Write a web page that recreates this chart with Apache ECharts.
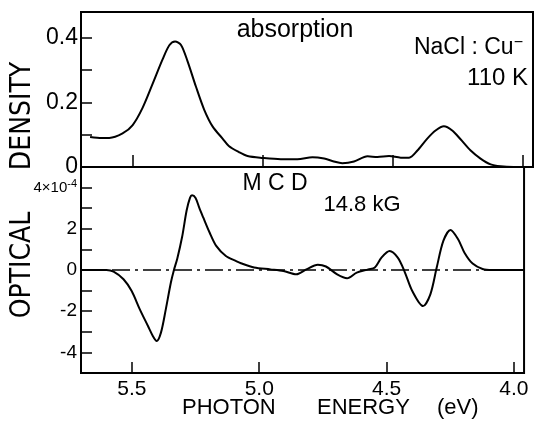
<!DOCTYPE html>
<html>
<head>
<meta charset="utf-8">
<script src="https://cdn.jsdelivr.net/npm/echarts@6/dist/echarts.min.js"></script>
<style>
  html, body { margin: 0; padding: 0; background: #fff; }
  #chart { width: 540px; height: 421px; }
</style>
</head>
<body>
<div id="chart"></div>
<script>
// absorption (optical density) vs photon energy
var absEnergy = [5.665, 5.620, 5.591, 5.540, 5.501, 5.463, 5.424, 5.386, 5.360, 5.338, 5.315, 5.290, 5.258, 5.226, 5.193, 5.155, 5.131, 5.092, 5.059, 5.001, 4.931, 4.867, 4.809, 4.764, 4.730, 4.694, 4.649, 4.597, 4.559, 4.514, 4.469, 4.437, 4.405, 4.367, 4.335, 4.303, 4.271, 4.238, 4.200, 4.162, 4.123, 4.085, 4.035, 3.960];
var absDensity = [0.093, 0.090, 0.090, 0.104, 0.130, 0.183, 0.258, 0.333, 0.377, 0.389, 0.378, 0.328, 0.250, 0.178, 0.125, 0.088, 0.065, 0.046, 0.034, 0.028, 0.024, 0.024, 0.030, 0.026, 0.018, 0.012, 0.017, 0.033, 0.031, 0.034, 0.029, 0.029, 0.051, 0.088, 0.113, 0.126, 0.113, 0.085, 0.051, 0.026, 0.008, 0.002, 0, 0];

// MCD, units of 1e-4
var mcdEnergy = [5.696, 5.600, 5.572, 5.533, 5.501, 5.469, 5.437, 5.418, 5.403, 5.386, 5.367, 5.347, 5.335, 5.322, 5.303, 5.285, 5.272, 5.264, 5.250, 5.235, 5.220, 5.195, 5.169, 5.131, 5.092, 5.072, 5.020, 4.956, 4.905, 4.854, 4.815, 4.770, 4.738, 4.694, 4.655, 4.617, 4.572, 4.546, 4.520, 4.488, 4.456, 4.430, 4.399, 4.357, 4.328, 4.303, 4.277, 4.249, 4.219, 4.194, 4.162, 4.123, 4.085, 3.960];
var mcdValue = [0, 0, -0.08, -0.45, -1.02, -1.91, -2.72, -3.2, -3.45, -3.04, -1.91, -0.61, 0, 0.55, 1.6, 2.9, 3.5, 3.63, 3.5, 3.0, 2.55, 1.82, 1.17, 0.68, 0.44, 0.33, 0.12, 0.03, -0.05, -0.21, 0.03, 0.26, 0.17, -0.21, -0.40, -0.13, 0.03, 0.12, 0.60, 0.92, 0.60, -0.05, -1.02, -1.75, -1.18, 0.12, 1.41, 1.94, 1.49, 0.84, 0.31, 0.05, 0, 0];

var energyTicks = [4.0, 4.5, 5.0, 5.5];
var densityTicks = [0.1, 0.2, 0.3, 0.4];
var densityLabels = [0, 0.2, 0.4];
var mcdTicks = [-4, -3, -2, -1, 0, 1, 2, 3, 4];
var mcdLabels = [-4, -2, 0, 2, 4];

var FONT = "'Liberation Sans', Arial, sans-serif";
var NARROW = "'Liberation Sans Narrow', 'DejaVu Sans Condensed', 'Liberation Sans', sans-serif";

var myChart = echarts.init(document.getElementById('chart'), null, { renderer: 'canvas' });

function pairs(xs, ys) {
    return xs.map(function (x, i) { return [x, ys[i]]; });
}

var xBase = {
    type: 'value',
    min: 3.96,
    max: 5.70,
    inverse: true,
    splitLine: { show: false },
    axisLine: { show: true, onZero: false, lineStyle: { color: '#000', width: 2 } }
};

var option = {
    animation: false,
    backgroundColor: '#fff',
    grid: [
        { left: 81, right: 7, top: 12, height: 155, show: true, borderColor: '#000', borderWidth: 2, backgroundColor: 'transparent' },
        { left: 81, right: 7, top: 167, height: 206, show: true, borderColor: '#000', borderWidth: 2, backgroundColor: 'transparent' }
    ],
    xAxis: [
        Object.assign({}, xBase, {
            gridIndex: 0,
            axisTick: { inside: true, length: 12, customValues: energyTicks, lineStyle: { color: '#000', width: 1.5 } },
            axisLabel: { show: false }
        }),
        Object.assign({}, xBase, {
            gridIndex: 1,
            axisTick: { inside: true, length: 11, customValues: energyTicks, lineStyle: { color: '#000', width: 1.5 } },
            axisLabel: {
                customValues: energyTicks,
                formatter: function (v) { return v.toFixed(1); },
                color: '#000', fontSize: 21, fontFamily: FONT, margin: 6
            }
        })
    ],
    yAxis: [
        {
            type: 'value', gridIndex: 0, min: 0, max: 0.48,
            splitLine: { show: false },
            axisLine: { show: true, lineStyle: { color: '#000', width: 2 } },
            axisTick: { inside: true, length: 11, customValues: densityTicks, lineStyle: { color: '#000', width: 1.5 } },
            axisLabel: {
                customValues: densityLabels,
                formatter: function (v) { return v === 0 ? '0' : String(v); },
                color: '#000', fontSize: 23, fontFamily: FONT, margin: 3
            }
        },
        {
            type: 'value', gridIndex: 1, min: -5, max: 5,
            splitLine: { show: false },
            axisLine: { show: true, lineStyle: { color: '#000', width: 2 } },
            axisTick: { inside: true, length: 11, customValues: mcdTicks, lineStyle: { color: '#000', width: 1.5 } },
            axisLabel: {
                customValues: mcdLabels,
                formatter: function (v) { return v === 4 ? '{s|4×10}{sup|-4}' : '{n|' + v + '}'; },
                color: '#000', fontFamily: FONT, margin: 4,
                rich: {
                    n: { fontSize: 19, fontFamily: FONT, color: '#000' },
                    s: { fontSize: 15, fontFamily: FONT, color: '#000' },
                    sup: { fontSize: 11, fontFamily: FONT, color: '#000', verticalAlign: 'top', padding: [0, 0, 8, 0] }
                }
            }
        },
        {
            // zero reference line (dash-dot) for the MCD panel
            type: 'value', gridIndex: 1, min: -5, max: 5, interval: 5,
            axisLine: { show: false }, axisTick: { show: false }, axisLabel: { show: false },
            splitLine: { show: true, lineStyle: { color: '#000', width: 1.5, type: [18, 5, 3, 5] } }
        }
    ],
    series: [
        {
            name: 'absorption', type: 'line', xAxisIndex: 0, yAxisIndex: 0,
            data: pairs(absEnergy, absDensity),
            smooth: 0.3, showSymbol: false,
            lineStyle: { color: '#000', width: 2 }
        },
        {
            name: 'MCD', type: 'line', xAxisIndex: 1, yAxisIndex: 1,
            data: pairs(mcdEnergy, mcdValue),
            smooth: 0.3, showSymbol: false,
            lineStyle: { color: '#000', width: 2 }
        }
    ],
    graphic: [
        { type: 'text', x: 23, y: 116, rotation: Math.PI / 2, style: { text: 'DENSITY', font: '28px ' + NARROW, fill: '#000', textAlign: 'center', textVerticalAlign: 'middle' } },
        { type: 'text', x: 23, y: 265, rotation: Math.PI / 2, style: { text: 'OPTICAL', font: '28px ' + NARROW, fill: '#000', textAlign: 'center', textVerticalAlign: 'middle' } },
        { type: 'text', x: 295, y: 30, style: { text: 'absorption', font: '25px ' + FONT, fill: '#000', textAlign: 'center', textVerticalAlign: 'middle' } },
        { type: 'text', x: 523, y: 48, style: {
            text: '{a|NaCl : Cu}{b|−}', fill: '#000', textAlign: 'right', textVerticalAlign: 'middle',
            rich: { a: { fontSize: 23, fontFamily: FONT, fill: '#000' }, b: { fontSize: 16, fontFamily: FONT, fill: '#000', verticalAlign: 'top', padding: [0, 0, 10, 0] } }
        } },
        { type: 'text', x: 528, y: 78, style: { text: '110 K', font: '24px ' + FONT, fill: '#000', textAlign: 'right', textVerticalAlign: 'middle' } },
        { type: 'text', x: 275, y: 184, style: { text: 'M C D', font: '23px ' + FONT, fill: '#000', textAlign: 'center', textVerticalAlign: 'middle' } },
        { type: 'text', x: 362, y: 205, style: { text: '14.8 kG', font: '22px ' + FONT, fill: '#000', textAlign: 'center', textVerticalAlign: 'middle' } },
        { type: 'text', x: 182, y: 408, style: { text: 'PHOTON', font: '22px ' + FONT, fill: '#000', textAlign: 'left', textVerticalAlign: 'middle' } },
        { type: 'text', x: 317, y: 408, style: { text: 'ENERGY', font: '22px ' + FONT, fill: '#000', textAlign: 'left', textVerticalAlign: 'middle' } },
        { type: 'text', x: 437, y: 408, style: { text: '(eV)', font: '22px ' + FONT, fill: '#000', textAlign: 'left', textVerticalAlign: 'middle' } }
    ]
};

myChart.setOption(option);
</script>
</body>
</html>
